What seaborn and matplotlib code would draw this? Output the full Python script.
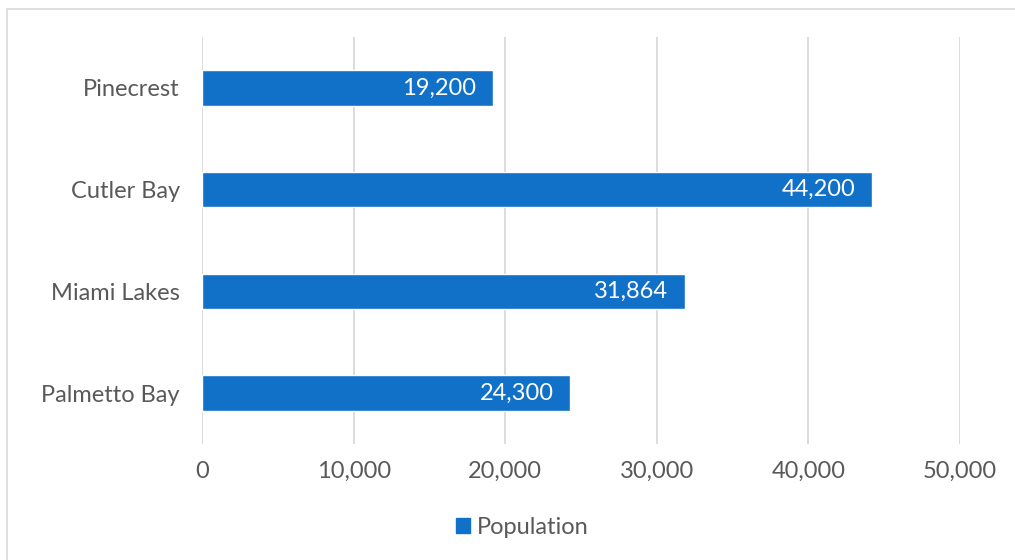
import matplotlib
matplotlib.use('Agg')
import matplotlib.pyplot as plt
import matplotlib.patches as mpatches
import seaborn as sns
import pandas as pd

# Chart data
cities = ['Pinecrest', 'Cutler Bay', 'Miami Lakes', 'Palmetto Bay']
population = [19200, 44200, 31864, 24300]
x_ticks = [0, 10000, 20000, 30000, 40000, 50000]

df = pd.DataFrame({'City': cities, 'Population': population})

bar_color = '#1170C8'
text_color = '#595959'
grid_color = '#D9D9D9'
fs = 17

sns.set_style('white')
plt.rcParams['font.family'] = ['Lato', 'DejaVu Sans']

fig = plt.figure(figsize=(10.15, 5.6), dpi=100)
ax = fig.add_axes([202 / 1015, 1 - 444 / 560, 758 / 1015, 407 / 560])

sns.barplot(data=df, y='City', x='Population', color=bar_color,
            width=0.35, saturation=1, ax=ax, zorder=3)

ax.set_xlim(0, 50000)
ax.set_xticks(x_ticks)
ax.set_xticklabels([f'{v:,}' for v in x_ticks], fontsize=fs, color=text_color)
ax.tick_params(axis='x', length=0, pad=12)
ax.tick_params(axis='y', length=0, pad=16, labelsize=fs, labelcolor=text_color)
ax.set_xlabel('')
ax.set_ylabel('')
for s in ax.spines.values():
    s.set_visible(False)
ax.grid(axis='x', color=grid_color, linewidth=1.3, zorder=0)
ax.set_axisbelow(True)

# Value labels inside the bar end
for i, v in enumerate(population):
    ax.annotate(f'{v:,}', xy=(v, i), xytext=(-12, 0), textcoords='offset points',
                ha='right', va='center', color='white', fontsize=fs)

# Legend at the bottom
handle = mpatches.Patch(color=bar_color, label='Population')
fig.legend(handles=[handle], loc='center', bbox_to_anchor=(522 / 1015, 1 - 527 / 560),
           frameon=False, fontsize=fs, labelcolor=text_color,
           handlelength=0.6, handleheight=0.6, handletextpad=0.3)

# Chart border
fig.patches.append(mpatches.Rectangle((7 / 1015, -0.05), 1.1, 1.05 - 9 / 560,
                                      transform=fig.transFigure, fill=False,
                                      edgecolor=grid_color, linewidth=1.2))

fig.savefig('out.png', dpi=100)
